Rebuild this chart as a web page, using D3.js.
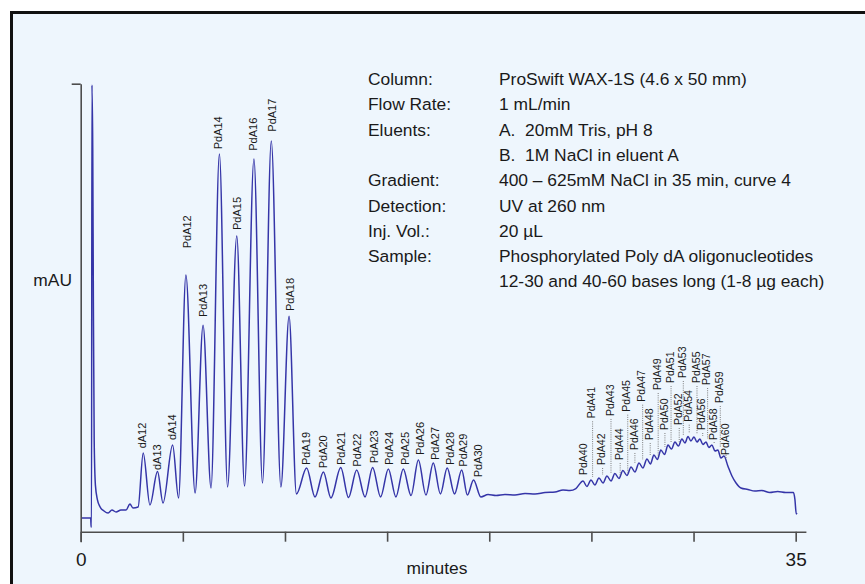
<!DOCTYPE html>
<html>
<head>
<meta charset="utf-8">
<script src="https://cdn.jsdelivr.net/npm/d3@7"></script>
<style>
  html, body { margin: 0; padding: 0; background: #ffffff; }
  svg { display: block; font-family: 'Liberation Sans', Arial, Helvetica, sans-serif; }
</style>
</head>
<body>
<svg id="chart" width="865" height="584"></svg>
<script>
(function () {
  // chromatogram trace: [minutes, mAU]
  const trace = [
    [0.06, 3.06], [0.49, 3.06], [0.51, 1.05], [0.53, 1.05], [0.55, 99.7],
    [0.59, 85.2], [0.62, 51.7], [0.66, 20.5], [0.72, 10.4], [0.82, 7.08],
    [0.95, 5.51], [1.14, 4.62], [1.34, 4.17], [1.53, 4.84], [1.73, 4.40],
    [1.97, 4.84], [2.22, 4.84], [2.41, 6.18], [2.56, 5.29], [2.81, 5.51],
    [3.06, 17.57], [3.39, 5.96], [3.76, 13.44], [4.03, 6.41], [4.50, 19.35],
    [4.79, 7.52], [5.15, 57.3], [5.60, 8.64], [5.99, 46.1], [6.38, 9.75],
    [6.79, 84.3], [7.19, 9.98], [7.64, 66.0], [8.02, 10.2], [8.48, 83.2],
    [8.90, 10.87], [9.33, 87.2], [9.80, 9.98], [10.20, 48.1], [10.56, 8.42],
    [11.06, 14.22], [11.47, 7.75], [11.88, 13.33], [12.25, 7.52], [12.73, 14.33],
    [13.11, 7.63], [13.51, 13.77], [13.92, 7.75], [14.29, 14.33], [14.68, 7.75],
    [15.06, 14.0], [15.43, 7.75], [15.79, 14.0], [16.17, 8.08], [16.53, 16.0],
    [16.90, 8.19], [17.26, 15.33], [17.61, 8.42], [17.94, 14.22], [18.30, 8.42],
    [18.65, 13.77], [18.93, 8.19], [19.23, 11.54], [19.59, 7.75], [19.94, 8.30],
    [20.33, 8.08], [20.77, 8.30], [21.26, 8.19], [21.75, 8.53], [22.24, 8.42],
    [22.73, 8.75], [23.22, 8.86], [23.61, 9.31], [23.95, 9.20], [24.24, 9.64],
    [24.59, 11.32], [24.78, 10.09], [24.98, 11.54], [25.17, 10.42], [25.37, 11.99],
    [25.57, 10.87], [25.76, 12.43], [25.96, 11.32], [26.15, 12.99], [26.35, 11.88],
    [26.54, 13.66], [26.74, 12.54], [26.94, 14.44], [27.13, 13.33], [27.33, 15.33],
    [27.52, 14.22], [27.72, 16.23], [27.89, 15.11], [28.06, 17.12], [28.23, 16.12],
    [28.40, 18.24], [28.58, 17.23], [28.75, 19.35], [28.92, 18.46], [29.09, 20.02],
    [29.26, 19.13], [29.43, 20.69], [29.58, 19.80], [29.73, 21.25], [29.87, 20.25],
    [30.02, 21.14], [30.17, 20.02], [30.31, 20.69], [30.46, 19.46], [30.61, 20.02],
    [30.75, 18.79], [30.90, 19.35], [31.05, 18.01], [31.19, 18.24], [31.34, 16.45],
    [31.49, 16.90], [31.68, 14.67], [31.88, 12.43], [32.08, 10.87], [32.32, 9.75],
    [32.66, 9.42], [33.00, 9.08], [33.34, 9.20], [33.73, 8.75], [34.12, 8.97],
    [34.51, 8.75], [34.89, 8.75], [34.96, 7.30], [35.03, 3.95], [35.06, 4.17],
  ];

  // labels of the 12-30 group: name, minutes, mAU at the foot of the text
  const shortNames = ['dA12', 'dA13', 'dA14', 'PdA12', 'PdA13', 'PdA14', 'PdA15', 'PdA16',
    'PdA17', 'PdA18', 'PdA19', 'PdA20', 'PdA21', 'PdA22', 'PdA23', 'PdA24', 'PdA25',
    'PdA26', 'PdA27', 'PdA28', 'PdA29', 'PdA30'];
  const shortLabelMin = [2.99, 3.72, 4.48, 5.19, 6.00, 6.74, 7.64, 8.45, 9.35, 10.25,
    11.06, 11.88, 12.73, 13.54, 14.36, 15.11, 15.87, 16.61, 17.34, 18.08, 18.73, 19.46];
  const shortLabelMAU = [18.6, 13.77, 20.47, 63.26, 47.92, 85.36, 67.34, 85.04, 89.29, 49.26,
    14.89, 14.15, 14.89, 14.51, 15.27, 14.89, 14.89, 17.12, 16.0, 14.89, 14.51, 12.14];

  // labels of the 40-60 group, staggered, with dotted leaders
  const longNames = ['PdA40', 'PdA41', 'PdA42', 'PdA43', 'PdA44', 'PdA45', 'PdA46', 'PdA47',
    'PdA48', 'PdA49', 'PdA50', 'PdA51', 'PdA52', 'PdA53', 'PdA54', 'PdA55', 'PdA56',
    'PdA57', 'PdA58', 'PdA59', 'PdA60'];
  const longLabelMin = [24.59, 25.01, 25.50, 25.91, 26.36, 26.73, 27.08, 27.46, 27.83, 28.22,
    28.55, 28.85, 29.25, 29.45, 29.74, 30.12, 30.40, 30.64, 30.96, 31.26, 31.54];
  const longLabelMAU = [12.66, 25.31, 14.89, 25.83, 16.0, 26.79, 18.24, 29.02, 20.47, 31.63,
    22.70, 33.19, 23.82, 34.31, 24.55, 33.19, 22.70, 32.74, 20.47, 28.73, 17.12];

  const infoKeys = ['Column:', 'Flow Rate:', 'Eluents:', '', 'Gradient:', 'Detection:',
    'Inj. Vol.:', 'Sample:', ''];
  const infoValues = [
    'ProSwift WAX-1S (4.6 x 50 mm)',
    '1 mL/min',
    'A.  20mM Tris, pH 8',
    'B.  1M NaCl in eluent A',
    '400 \u2013 625mM NaCl in 35 min, curve 4',
    'UV at 260 nm',
    '20 \u00b5L',
    'Phosphorylated Poly dA oligonucleotides',
    '12-30 and 40-60 bases long (1-8 \u00b5g each)',
  ];

  const xTicks = [0, 5, 10, 15, 20, 25, 30, 35];
  const xTickLabels = { 0: '0', 35: '35' };

  const svg = d3.select('#chart');

  svg.append('rect')
    .attr('x', 11.5)
    .attr('y', 12.5)
    .attr('width', 900)
    .attr('height', 640)
    .attr('fill', '#eef6fd')
    .attr('stroke', '#111111')
    .attr('stroke-width', 3);

  const xScale = d3.scaleLinear()
    .domain([0, 35.5])
    .range([80.7, 805.9]);

  const yScale = d3.scaleLinear()
    .domain([-10 / 4.48, 100])
    .range([541.7, 83.7]);

  const axisColor = '#4d4d4d';

  const xAxis = d3.axisBottom(xScale)
    .tickValues(xTicks)
    .tickSize(10)
    .tickSizeOuter(0)
    .tickPadding(11)
    .tickFormat((d) => xTickLabels[d] || '');

  const gx = svg.append('g')
    .attr('transform', `translate(0,${yScale(0)})`)
    .call(xAxis);

  gx.select('.domain').attr('stroke', axisColor).attr('stroke-width', 1.6);
  gx.selectAll('.tick line').attr('stroke', axisColor).attr('stroke-width', 1.6);
  gx.selectAll('.tick text')
    .attr('fill', '#1a1a1a')
    .style('font-size', '19px')
    .style('font-family', "'Liberation Sans', Arial, sans-serif");

  const yAxis = d3.axisLeft(yScale)
    .tickValues([100])
    .tickSize(9)
    .tickSizeOuter(0)
    .tickFormat('');

  const gy = svg.append('g')
    .attr('transform', `translate(${xScale(0)},0)`)
    .call(yAxis);

  gy.select('.domain').attr('stroke', axisColor).attr('stroke-width', 1.6);
  gy.selectAll('.tick line').attr('stroke', axisColor).attr('stroke-width', 1.6);

  svg.append('text')
    .attr('x', 72)
    .attr('y', 286)
    .attr('text-anchor', 'end')
    .attr('fill', '#1a1a1a')
    .style('font-size', '17.4px')
    .text('mAU');

  svg.append('text')
    .attr('x', 437)
    .attr('y', 574)
    .attr('text-anchor', 'middle')
    .attr('fill', '#1a1a1a')
    .style('font-size', '17.4px')
    .text('minutes');

  // trace
  const lineGenerator = d3.line()
    .curve(d3.curveMonotoneX)
    .x((d) => xScale(d[0]))
    .y((d) => yScale(d[1]));

  svg.append('path')
    .datum(trace)
    .attr('fill', 'none')
    .attr('stroke', '#3535a8')
    .attr('stroke-width', 1.5)
    .attr('stroke-linejoin', 'round')
    .attr('d', lineGenerator);

  // short group labels
  svg.append('g')
    .selectAll('text')
    .data(shortNames)
    .join('text')
    .attr('transform', (d, i) => `translate(${xScale(shortLabelMin[i])},${yScale(shortLabelMAU[i])}) rotate(-90)`)
    .attr('dy', '0.35em')
    .attr('fill', '#1a1a1a')
    .style('font-size', '11px')
    .text((d) => d);

  // leaders for the long group
  const peakNear = (t) => {
    const near = trace.filter((p) => Math.abs(p[0] - t) < 0.16);
    return d3.max(near, (p) => p[1]);
  };

  svg.append('g')
    .attr('stroke', '#6e6e6e')
    .attr('stroke-width', 0.9)
    .attr('stroke-dasharray', '1 1.2')
    .selectAll('line')
    .data(longNames)
    .join('line')
    .attr('x1', (d, i) => xScale(longLabelMin[i]) + 1)
    .attr('x2', (d, i) => xScale(longLabelMin[i]) + 1)
    .attr('y1', (d, i) => yScale(longLabelMAU[i]) + 3)
    .attr('y2', (d, i) => yScale(peakNear(longLabelMin[i])) - 3);

  svg.append('g')
    .selectAll('text')
    .data(longNames)
    .join('text')
    .attr('transform', (d, i) => `translate(${xScale(longLabelMin[i])},${yScale(longLabelMAU[i])}) rotate(-90)`)
    .attr('dy', '0.35em')
    .attr('fill', '#1a1a1a')
    .style('font-size', '10.5px')
    .text((d) => d);

  // conditions block
  const info = svg.append('g')
    .attr('fill', '#1a1a1a')
    .style('font-size', '17.4px');

  info.selectAll('text.key')
    .data(infoKeys)
    .join('text')
    .attr('class', 'key')
    .attr('x', 368)
    .attr('y', (d, i) => 85 + i * 25.3)
    .text((d) => d);

  info.selectAll('text.value')
    .data(infoValues)
    .join('text')
    .attr('class', 'value')
    .attr('x', 499)
    .attr('y', (d, i) => 85 + i * 25.3)
    .attr('xml:space', 'preserve')
    .style('white-space', 'pre')
    .text((d) => d);
})();
</script>
</body>
</html>
